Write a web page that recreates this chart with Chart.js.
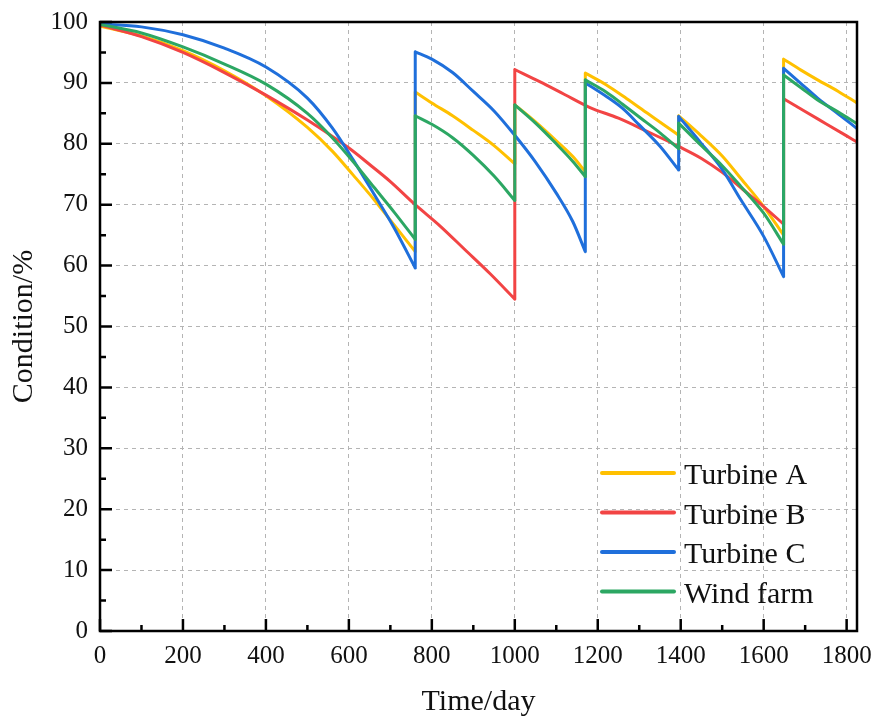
<!DOCTYPE html>
<html>
<head>
<meta charset="utf-8">
<title>Condition over time</title>
<script src="https://cdn.jsdelivr.net/npm/chart.js@4"></script>
<style>
  html, body { margin: 0; padding: 0; background: #fff; }
  canvas { display: block; }
</style>
</head>
<body>
<canvas id="conditionChart" width="872" height="720"></canvas>
<script>
// Condition (%) of each turbine and the whole farm, one sub-array per
// maintenance interval; each interval starts on the day the last one ended.
const turbineADays = [
    [0, 100, 200, 300, 400, 500, 560, 610, 660, 710, 760],
    [760, 800, 850, 900, 950, 1000],
    [1000, 1050, 1100, 1140, 1170],
    [1170, 1220, 1270, 1320, 1360, 1395],
    [1395, 1448, 1500, 1545, 1600, 1648],
    [1648, 1690, 1730, 1780, 1825]
];
const turbineAValues = [
    [99.3, 97.7, 95.3, 92.0, 87.9, 82.7, 78.8, 74.9, 70.9, 66.6, 62.3],
    [88.5, 86.7, 84.6, 82.2, 79.7, 76.7],
    [86.4, 83.6, 80.5, 77.9, 75.4],
    [91.6, 89.7, 87.4, 85.0, 83.1, 81.4],
    [84.6, 81.4, 78.0, 74.3, 69.7, 65.0],
    [93.9, 92.1, 90.5, 88.6, 86.7]
];

const turbineBDays = [
    [0, 100, 200, 300, 400, 500, 600, 650, 700, 760, 820, 880, 940, 1000],
    [1000, 1060, 1120, 1180, 1250, 1320, 1400, 1450, 1500, 1550, 1600, 1648],
    [1648, 1700, 1750, 1800, 1825]
];
const turbineBValues = [
    [99.5, 97.6, 95.0, 91.7, 88.0, 83.9, 79.3, 76.6, 73.8, 70.0, 66.5, 62.6, 58.7, 54.5],
    [92.2, 90.2, 88.1, 86.0, 84.2, 82.0, 79.4, 77.6, 75.3, 72.5, 69.7, 66.8],
    [87.4, 85.3, 83.3, 81.3, 80.3]
];

const turbineCDays = [
    [0, 100, 200, 300, 400, 500, 560, 610, 660, 710, 760],
    [760, 800, 850, 900, 950, 1000, 1050, 1100, 1140, 1170],
    [1170, 1220, 1260, 1300, 1350, 1395],
    [1395, 1448, 1500, 1545, 1600, 1648],
    [1648, 1690, 1730, 1780, 1825]
];
const turbineCValues = [
    [99.7, 99.2, 97.9, 95.7, 92.6, 87.5, 82.6, 77.4, 71.8, 66.1, 59.6],
    [95.1, 93.9, 91.7, 88.6, 85.4, 81.4, 77.0, 71.9, 67.2, 62.3],
    [90.0, 87.8, 85.8, 83.1, 79.6, 75.7],
    [84.5, 80.2, 75.8, 70.8, 64.8, 58.2],
    [92.4, 89.9, 87.5, 84.9, 82.5]
];

const windFarmDays = [
    [0, 100, 200, 300, 400, 500, 560, 610, 660, 710, 760],
    [760, 800, 850, 900, 950, 1000],
    [1000, 1050, 1100, 1140, 1170],
    [1170, 1220, 1260, 1300, 1350, 1395],
    [1395, 1448, 1500, 1545, 1600, 1648],
    [1648, 1690, 1730, 1780, 1825]
];
const windFarmValues = [
    [99.6, 98.2, 95.9, 93.1, 89.8, 85.0, 81.0, 77.1, 72.9, 68.7, 64.3],
    [84.6, 83.2, 81.0, 78.1, 74.7, 70.7],
    [86.4, 83.4, 80.0, 77.1, 74.6],
    [90.5, 88.5, 86.5, 84.4, 81.8, 79.2],
    [83.4, 79.8, 76.4, 73.0, 68.6, 63.5],
    [91.3, 89.2, 87.2, 85.2, 83.3]
];

const seriesNames = ['Turbine A', 'Turbine B', 'Turbine C', 'Wind farm'];
const seriesColors = ['#FFC000', '#F24444', '#1F6FDB', '#2CA763'];

const xTicks = [0, 200, 400, 600, 800, 1000, 1200, 1400, 1600, 1800];
const yTicks = [0, 10, 20, 30, 40, 50, 60, 70, 80, 90, 100];

const FONT = "'Liberation Serif', 'Times New Roman', serif";

// Each interval is its own smooth piece; the step between two intervals is a
// separate two-point vertical piece, with null gaps so the monotone curves
// do not flatten at the jumps.
function buildSeries(daySegs, valueSegs) {
    const pts = [];
    daySegs.forEach((days, k) => {
        if (k > 0) {
            const prev = valueSegs[k - 1];
            pts.push({ x: days[0], y: null });
            pts.push({ x: days[0], y: prev[prev.length - 1] });
            pts.push({ x: days[0], y: valueSegs[k][0] });
            pts.push({ x: days[0], y: null });
        }
        days.forEach((d, i) => pts.push({ x: d, y: valueSegs[k][i] }));
    });
    return pts;
}

const allDays = [turbineADays, turbineBDays, turbineCDays, windFarmDays];
const allValues = [turbineAValues, turbineBValues, turbineCValues, windFarmValues];

// Box frame with inward major/minor ticks on the left and bottom axes
const framePlugin = {
    id: 'frame',
    afterDatasetsDraw(chart) {
        const { ctx, chartArea: a, scales } = chart;
        ctx.save();
        ctx.strokeStyle = '#000';
        ctx.lineWidth = 2.5;
        ctx.lineCap = 'butt';
        ctx.beginPath();
        for (let d = 0; d <= 1800; d += 100) {
            const px = scales.x.getPixelForValue(d);
            const len = d % 200 === 0 ? 12 : 6;
            ctx.moveTo(px, a.bottom);
            ctx.lineTo(px, a.bottom - len);
        }
        for (let v = 0; v <= 100; v += 5) {
            const py = scales.y.getPixelForValue(v);
            const len = v % 10 === 0 ? 12 : 6;
            ctx.moveTo(a.left, py);
            ctx.lineTo(a.left + len, py);
        }
        ctx.stroke();
        ctx.strokeRect(a.left, a.top, a.right - a.left, a.bottom - a.top);
        ctx.restore();
    }
};

// Legend inside the plot, bottom right
const innerLegend = {
    id: 'innerLegend',
    afterDatasetsDraw(chart) {
        const { ctx, chartArea: a } = chart;
        const x0 = a.right - 255;
        const y0 = a.bottom - 158;
        ctx.save();
        ctx.font = '30px ' + FONT;
        ctx.textBaseline = 'alphabetic';
        chart.data.datasets.forEach((ds, i) => {
            const y = y0 + i * 39.5;
            ctx.strokeStyle = ds.borderColor;
            ctx.lineWidth = 4;
            ctx.lineCap = 'round';
            ctx.beginPath();
            ctx.moveTo(x0, y);
            ctx.lineTo(x0 + 72, y);
            ctx.stroke();
            ctx.fillStyle = '#111';
            ctx.fillText(ds.label, x0 + 82, y + 11);
        });
        ctx.restore();
    }
};

Chart.defaults.font.family = FONT;
Chart.defaults.color = '#111';

new Chart(document.getElementById('conditionChart'), {
    type: 'line',
    data: {
        datasets: seriesNames.map((name, i) => ({
            label: name,
            data: buildSeries(allDays[i], allValues[i]),
            borderColor: seriesColors[i],
            backgroundColor: seriesColors[i],
            borderWidth: 3,
            borderCapStyle: 'round',
            borderJoinStyle: 'round',
            cubicInterpolationMode: 'monotone',
            pointRadius: 0,
            spanGaps: false,
            fill: false,
            order: seriesNames.length - 1 - i
        }))
    },
    options: {
        responsive: false,
        animation: false,
        layout: { padding: { left: 0, top: 22, right: 15, bottom: 0 } },
        plugins: {
            legend: { display: false },
            tooltip: { enabled: false }
        },
        scales: {
            x: {
                type: 'linear',
                min: 0,
                max: 1825,
                afterBuildTicks: s => { s.ticks = xTicks.map(v => ({ value: v })); },
                afterFit: s => {
                    s.height = 89;
                    s.paddingLeft = 0;
                    s.paddingRight = 0;
                },
                ticks: {
                    font: { size: 25 },
                    padding: 10,
                    maxRotation: 0,
                    autoSkip: false,
                    color: '#111',
                    callback: v => String(v)
                },
                grid: { color: '#b4b4b4', lineWidth: 1, drawTicks: false },
                border: { display: false, dash: [4, 4] },
                title: {
                    display: true,
                    text: 'Time/day',
                    font: { size: 30 },
                    color: '#111',
                    padding: { top: 0, bottom: 0 }
                }
            },
            y: {
                min: 0,
                max: 100,
                afterBuildTicks: s => { s.ticks = yTicks.map(v => ({ value: v })); },
                afterFit: s => {
                    s.width = 100;
                    s.paddingTop = 0;
                    s.paddingBottom = 0;
                },
                ticks: {
                    font: { size: 25 },
                    padding: 12,
                    autoSkip: false,
                    color: '#111',
                    callback: v => String(v)
                },
                grid: { color: '#b4b4b4', lineWidth: 1, drawTicks: false },
                border: { display: false, dash: [4, 4] },
                title: {
                    display: true,
                    text: 'Condition/%',
                    font: { size: 30 },
                    color: '#111',
                    padding: { top: 6, bottom: 0 }
                }
            }
        }
    },
    plugins: [framePlugin, innerLegend]
});
</script>
</body>
</html>
